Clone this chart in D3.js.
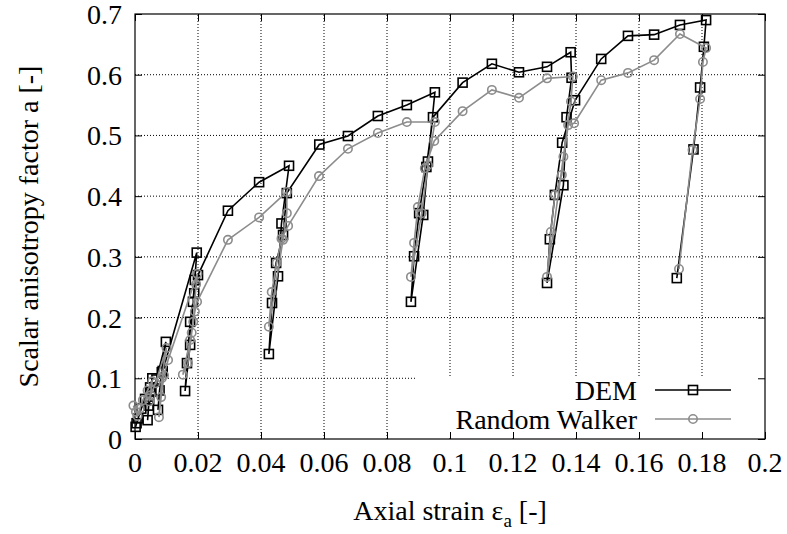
<!DOCTYPE html>
<html>
<head>
<meta charset="utf-8">
<script src="https://cdn.jsdelivr.net/npm/d3@7"></script>
<style>
  html, body { margin: 0; padding: 0; background: #fff; }
  svg { display: block; }
  svg text { font-family: "Liberation Serif", "Times New Roman", "DejaVu Serif", serif; }
</style>
</head>
<body>
<svg id="chart" width="787" height="534"></svg>
<script>
// [axial strain, anisotropy factor]
const demPoints = [
  [0.0002,0.020],[0.0005,0.026],[0.0010,0.034],[0.0020,0.050],[0.0032,0.066],[0.0048,0.085],[0.0055,0.100],
  [0.0045,0.065],[0.0040,0.031],
  [0.0043,0.055],[0.0052,0.078],[0.0068,0.098],[0.0098,0.160],
  [0.0085,0.110],[0.0073,0.048],
  [0.0078,0.080],[0.0088,0.112],
  [0.0196,0.307],
  [0.0190,0.262],[0.0184,0.226],[0.0175,0.155],[0.0159,0.079],
  [0.0165,0.125],[0.0175,0.193],[0.0188,0.240],[0.0200,0.270],
  [0.0295,0.376],[0.0394,0.423],[0.0489,0.450],
  [0.0465,0.355],[0.0454,0.268],[0.0425,0.140],
  [0.0435,0.224],[0.0448,0.290],[0.0470,0.336],[0.0482,0.405],
  [0.0585,0.485],[0.0676,0.499],[0.0771,0.532],[0.0863,0.550],[0.0952,0.571],
  [0.0930,0.457],[0.0915,0.369],[0.0876,0.226],
  [0.0886,0.301],[0.0902,0.372],[0.0925,0.448],[0.0946,0.530],
  [0.1040,0.587],[0.1133,0.618],[0.1219,0.604],[0.1308,0.613],[0.1383,0.637],
  [0.1386,0.595],[0.1370,0.530],[0.1360,0.418],[0.1308,0.257],
  [0.1317,0.329],[0.1333,0.402],[0.1356,0.488],[0.1397,0.558],
  [0.1480,0.626],[0.1565,0.664],[0.1648,0.666],[0.1730,0.682],[0.1813,0.690],
  [0.1806,0.646],[0.1794,0.579],[0.1773,0.477],[0.1720,0.265]
];

const rwPoints = [
  [-0.0005,0.055],[0.0003,0.045],[0.0008,0.038],[0.0015,0.050],[0.0025,0.064],[0.0040,0.080],[0.0055,0.095],
  [0.0045,0.062],[0.0050,0.072],[0.0065,0.092],[0.0100,0.150],
  [0.0085,0.100],[0.0076,0.036],
  [0.0083,0.069],[0.0092,0.105],[0.0105,0.130],
  [0.0198,0.272],
  [0.0194,0.255],[0.0185,0.193],[0.0175,0.163],[0.0152,0.106],
  [0.0168,0.125],[0.0180,0.175],[0.0190,0.210],[0.0197,0.226],
  [0.0295,0.328],[0.0394,0.365],[0.0482,0.407],
  [0.0482,0.372],[0.0470,0.328],[0.0425,0.185],
  [0.0434,0.242],[0.0450,0.290],[0.0465,0.330],[0.0486,0.351],
  [0.0584,0.433],[0.0676,0.478],[0.0771,0.504],[0.0863,0.522],[0.0952,0.522],
  [0.0930,0.451],[0.0910,0.372],[0.0876,0.267],
  [0.0886,0.323],[0.0898,0.382],[0.0920,0.446],[0.0950,0.491],
  [0.1040,0.540],[0.1133,0.575],[0.1219,0.562],[0.1308,0.594],[0.1390,0.597],
  [0.1384,0.556],[0.1360,0.465],[0.1308,0.267],
  [0.1320,0.341],[0.1333,0.402],[0.1355,0.435],[0.1375,0.517],[0.1394,0.520],
  [0.1480,0.591],[0.1565,0.603],[0.1648,0.624],[0.1730,0.667],[0.1813,0.644],
  [0.1803,0.621],[0.1794,0.560],[0.1770,0.476],[0.1727,0.280]
];

const xTicks = [0, 0.02, 0.04, 0.06, 0.08, 0.1, 0.12, 0.14, 0.16, 0.18, 0.2];
const yTicks = [0, 0.1, 0.2, 0.3, 0.4, 0.5, 0.6, 0.7];
const seriesNames = ["DEM", "Random Walker"];

const width = 787;
const height = 534;
const margin = { top: 14, right: 22, bottom: 95, left: 135 };
const demColor = "#000";
const rwColor = "#8c8c8c";
const fontSize = 28;

const svg = d3.select("#chart");

const x = d3.scaleLinear()
  .domain([0, 0.2])
  .range([margin.left, width - margin.right]);

const y = d3.scaleLinear()
  .domain([0, 0.7])
  .range([height - margin.bottom, margin.top]);

const fmt = d => d === 0 ? "0" : String(d);

// grid (dotted)
const grid = svg.append("g")
  .attr("stroke", "#000")
  .attr("stroke-width", 1)
  .attr("stroke-dasharray", "1,2");

grid.selectAll(".gx")
  .data(xTicks.slice(1, -1))
  .enter().append("line")
  .attr("x1", d => x(d)).attr("x2", d => x(d))
  .attr("y1", y(0)).attr("y2", y(0.7));

grid.selectAll(".gy")
  .data(yTicks.slice(1, -1))
  .enter().append("line")
  .attr("x1", x(0)).attr("x2", x(0.2))
  .attr("y1", d => y(d)).attr("y2", d => y(d));

// legend background hides the grid behind it
svg.append("rect")
  .attr("x", 415)
  .attr("y", 376)
  .attr("width", x(0.2) - 415 - 1)
  .attr("height", y(0) - 376 - 1)
  .attr("fill", "#fff");

// axes (ticks inward, mirrored)
const tickLen = 7;
svg.append("g")
  .attr("transform", `translate(0,${y(0)})`)
  .call(d3.axisBottom(x).tickValues(xTicks).tickSize(-tickLen).tickFormat(""))
  .call(g => g.select(".domain").remove());
svg.append("g")
  .attr("transform", `translate(0,${y(0.7)})`)
  .call(d3.axisTop(x).tickValues(xTicks).tickSize(-tickLen).tickFormat(""))
  .call(g => g.select(".domain").remove());
svg.append("g")
  .attr("transform", `translate(${x(0)},0)`)
  .call(d3.axisLeft(y).tickValues(yTicks).tickSize(-tickLen).tickFormat(""))
  .call(g => g.select(".domain").remove());
svg.append("g")
  .attr("transform", `translate(${x(0.2)},0)`)
  .call(d3.axisRight(y).tickValues(yTicks).tickSize(-tickLen).tickFormat(""))
  .call(g => g.select(".domain").remove());

svg.selectAll(".tick line").attr("stroke", "#000").attr("stroke-width", 1);

svg.append("rect")
  .attr("x", x(0))
  .attr("y", y(0.7))
  .attr("width", x(0.2) - x(0))
  .attr("height", y(0) - y(0.7))
  .attr("fill", "none")
  .attr("stroke", "#000")
  .attr("stroke-width", 1.2);

// tick labels
svg.append("g").selectAll("text")
  .data(xTicks)
  .enter().append("text")
  .attr("x", d => x(d))
  .attr("y", y(0) + 33)
  .attr("text-anchor", "middle")
  .attr("font-size", fontSize)
  .text(fmt);

svg.append("g").selectAll("text")
  .data(yTicks)
  .enter().append("text")
  .attr("x", x(0) - 13)
  .attr("y", d => y(d) + 10)
  .attr("text-anchor", "end")
  .attr("font-size", fontSize)
  .text(fmt);

// axis titles
const xTitle = svg.append("text")
  .attr("x", 450)
  .attr("y", 520)
  .attr("text-anchor", "middle")
  .attr("font-size", fontSize);
xTitle.append("tspan").text("Axial strain ε");
xTitle.append("tspan").attr("font-size", 19).attr("dy", 7).text("a");
xTitle.append("tspan").attr("dy", -7).text(" [-]");

svg.append("text")
  .attr("transform", `translate(38,${(y(0) + y(0.7)) / 2}) rotate(-90)`)
  .attr("text-anchor", "middle")
  .attr("font-size", fontSize)
  .text("Scalar anisotropy factor a [-]");

// series
const line = d3.line()
  .x(d => x(d[0]))
  .y(d => y(d[1]));

function drawSeries(points, color, marker) {
  const g = svg.append("g");
  g.append("path")
    .datum(points)
    .attr("fill", "none")
    .attr("stroke", color)
    .attr("stroke-width", 1.6)
    .attr("d", line);
  if (marker === "square") {
    g.selectAll("rect")
      .data(points)
      .enter().append("rect")
      .attr("x", d => x(d[0]) - 4.5)
      .attr("y", d => y(d[1]) - 4.5)
      .attr("width", 9)
      .attr("height", 9)
      .attr("fill", "none")
      .attr("stroke", color)
      .attr("stroke-width", 1.6);
  } else {
    g.selectAll("circle")
      .data(points)
      .enter().append("circle")
      .attr("cx", d => x(d[0]))
      .attr("cy", d => y(d[1]))
      .attr("r", 4.2)
      .attr("fill", "none")
      .attr("stroke", color)
      .attr("stroke-width", 1.6);
  }
}

drawSeries(demPoints, demColor, "square");
drawSeries(rwPoints, rwColor, "circle");

// legend
const legend = svg.append("g");
const legendRows = [
  { name: seriesNames[0], color: demColor, marker: "square", y: 390 },
  { name: seriesNames[1], color: rwColor, marker: "circle", y: 419 }
];
legendRows.forEach(r => {
  legend.append("text")
    .attr("x", 637)
    .attr("y", r.y + 10)
    .attr("text-anchor", "end")
    .attr("font-size", fontSize)
    .text(r.name);
  legend.append("line")
    .attr("x1", 655).attr("x2", 731)
    .attr("y1", r.y).attr("y2", r.y)
    .attr("stroke", r.color)
    .attr("stroke-width", 1.6);
  if (r.marker === "square") {
    legend.append("rect")
      .attr("x", 693 - 4.5).attr("y", r.y - 4.5)
      .attr("width", 9).attr("height", 9)
      .attr("fill", "none").attr("stroke", r.color).attr("stroke-width", 1.6);
  } else {
    legend.append("circle")
      .attr("cx", 693).attr("cy", r.y).attr("r", 4.2)
      .attr("fill", "none").attr("stroke", r.color).attr("stroke-width", 1.6);
  }
});
</script>
</body>
</html>
